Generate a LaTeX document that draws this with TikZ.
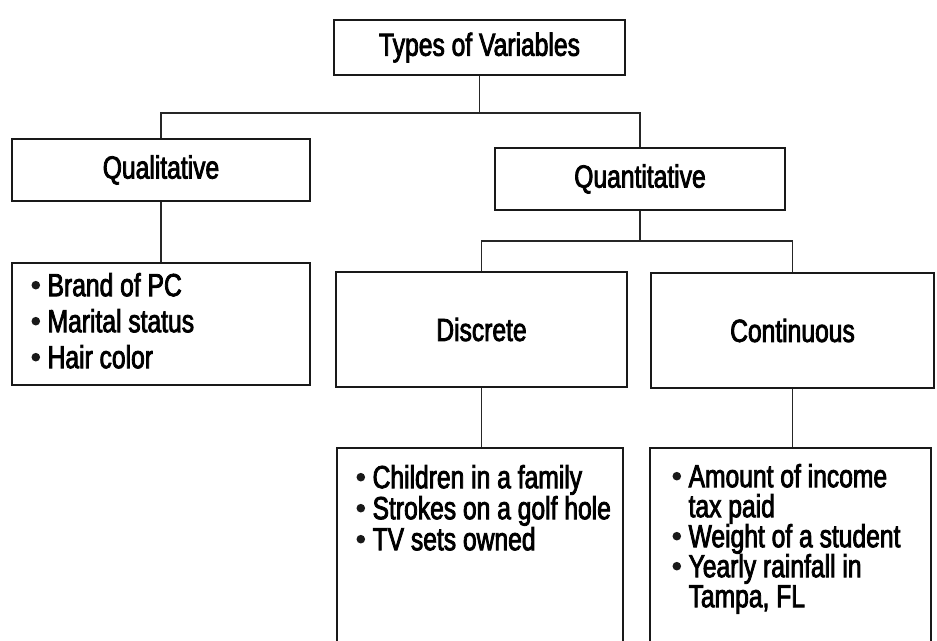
\documentclass[tikz,border=0pt]{standalone}
\usepackage{fontspec}
\setmainfont{Liberation Sans}[FakeStretch=0.77,FakeBold=2.5]
\newcommand\blt{\tikz[baseline={(0pt,-11pt)}]\fill[black!90] (0pt,0pt) circle (4.3pt);\hspace{7.5pt}}
\newcommand\hang{\hphantom{\blt}}
\begin{document}
\begin{tikzpicture}[x=1pt,y=-1pt,
  box/.style={draw=black!90,line width=2.4pt,rectangle,inner sep=0pt,
    font=\fontsize{32pt}{36pt}\selectfont},
  listtext/.style={anchor=north west,inner sep=0pt,align=left},
  conn/.style={draw=black!85,line width=1.5pt}]
\useasboundingbox[fill=white] (0,0) rectangle (937,640);
% boxes
\node[box,minimum width=291pt,minimum height=55pt] (top) at (479.5,47.5) {Types of Variables};
\node[box,minimum width=298pt,minimum height=62pt] (qual) at (161,170) {Qualitative};
\node[box,minimum width=290pt,minimum height=62pt] (quant) at (640,179) {Quantitative};
\node[box,minimum width=298pt,minimum height=122pt] (qlist) at (161,324) {};
\node[box,minimum width=291pt,minimum height=115pt] (disc) at (481.5,329.5) {Discrete};
\node[box,minimum width=283pt,minimum height=115pt] (cont) at (792.5,330.5) {Continuous};
\node[box,minimum width=286pt,minimum height=222pt] (dlist) at (480,559) {};
\node[box,minimum width=281pt,minimum height=222pt] (clist) at (790.5,559) {};
% list texts
\node[listtext,font=\fontsize{32pt}{36pt}\selectfont,xshift=20.5pt,yshift=-11pt] (qtext) at (qlist.north west)
  {\blt Brand of PC\\\blt Marital status\\\blt Hair color};
\node[listtext,font=\fontsize{32pt}{31pt}\selectfont,xshift=20.5pt,yshift=-18pt] (dtext) at (dlist.north west)
  {\blt Children in a family\\\blt Strokes on a golf hole\\\blt TV sets owned};
\node[listtext,font=\fontsize{32pt}{30pt}\selectfont,xshift=23.5pt,yshift=-17pt] (ctext) at (clist.north west)
  {\blt Amount of income\\\hang tax paid\\\blt Weight of a student\\\blt Yearly rainfall in\\\hang Tampa, FL};
% connectors
\coordinate (j1) at (top.south |- 0,113);
\coordinate (j2) at (quant.south |- 0,241);
\draw[conn] (top.south) -- (j1);
\draw[conn] (j1) -| (qual.north);
\draw[conn] (j1) -| (quant.north);
\draw[conn] (qual.south) -- (qlist.north);
\draw[conn] (quant.south) -- (j2);
\draw[conn] (j2) -| (disc.north);
\draw[conn] (j2) -| (cont.north);
\draw[conn] (disc.south) -- (disc.south |- dlist.north);
\draw[conn] (cont.south) -- (cont.south |- clist.north);
\end{tikzpicture}
\end{document}
